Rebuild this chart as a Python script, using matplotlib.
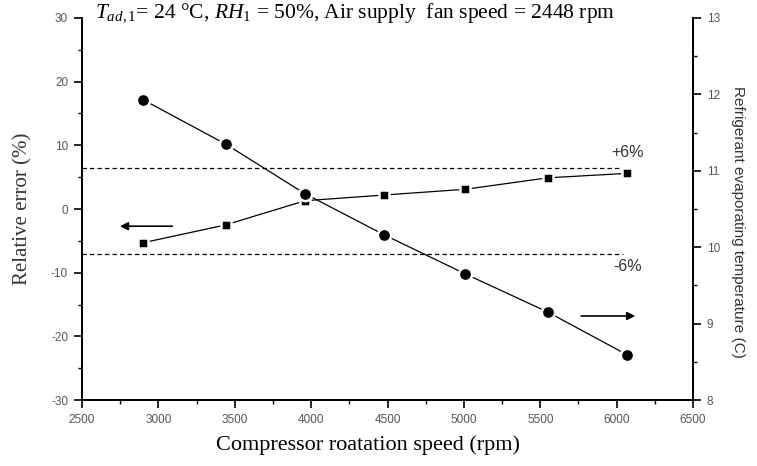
import matplotlib
matplotlib.use("Agg")
import matplotlib.pyplot as plt
from matplotlib.ticker import MultipleLocator

plt.rcParams["mathtext.fontset"] = "custom"
plt.rcParams["mathtext.rm"] = "Liberation Serif"
plt.rcParams["mathtext.it"] = "Liberation Serif:italic"
plt.rcParams["axes.unicode_minus"] = False

# compressor speeds (rpm)
speed = [2900, 3440, 3960, 4480, 5010, 5550, 6070]
# relative error of the model (%), left axis
rel_error = [-5.3, -2.5, 1.3, 2.2, 3.1, 4.9, 5.6]
# refrigerant evaporating temperature (C), right axis
evap_temp = [11.93, 11.35, 10.70, 10.16, 9.65, 9.15, 8.59]
# error band
band_upper = 6.5
band_lower = -7.0

fig = plt.figure(figsize=(7.57, 4.66), dpi=100)
ax = fig.add_axes([0.1083, 0.1416, 0.8072, 0.8198])
ax2 = ax.twinx()

tick_font = dict(family="Liberation Sans", size=8.5, color="#555555")

# left axis: relative error
ax.plot(speed, rel_error, color="black", lw=0.9, marker="s", ms=7,
        mfc="black", mec="white", mew=1.8, zorder=3)
ax.axhline(band_upper, xmin=0, xmax=(6040 - 2500) / 4000, color="black",
           lw=0.9, ls=(0, (3.5, 2.5)))
ax.axhline(band_lower, xmin=0, xmax=(6040 - 2500) / 4000, color="black",
           lw=0.9, ls=(0, (3.5, 2.5)))
ax.text(6070, band_upper + 2.3, "+6%", ha="center", va="center",
        family="Liberation Sans", fontsize=11.5, color="#333333")
ax.text(6070, band_lower - 2.0, "-6%", ha="center", va="center",
        family="Liberation Sans", fontsize=11.5, color="#333333")
ax.annotate("", xy=(2730, -2.7), xytext=(3110, -2.7),
            arrowprops=dict(arrowstyle="-|>", color="black", lw=1.2,
                            mutation_scale=12))

ax.set_xlim(2500, 6500)
ax.set_ylim(-30, 30)
ax.xaxis.set_major_locator(MultipleLocator(500))
ax.xaxis.set_minor_locator(MultipleLocator(250))
ax.yaxis.set_major_locator(MultipleLocator(10))
ax.yaxis.set_minor_locator(MultipleLocator(5))

# right axis: evaporating temperature
ax2.plot(speed, evap_temp, color="black", lw=0.9, marker="o", ms=9.5,
         mfc="black", mec="white", mew=1.8, zorder=3)
ax2.annotate("", xy=(6140, 9.1), xytext=(5750, 9.1),
             arrowprops=dict(arrowstyle="-|>", color="black", lw=1.2,
                             mutation_scale=12))
ax2.set_ylim(8, 13)
ax2.yaxis.set_major_locator(MultipleLocator(1))
ax2.yaxis.set_minor_locator(MultipleLocator(0.5))

for a in (ax, ax2):
    a.spines["top"].set_visible(False)
    for side in ("left", "right", "bottom"):
        a.spines[side].set_linewidth(1.4)
    a.tick_params(which="major", direction="out", length=6, width=1.2, pad=4)
    a.tick_params(which="minor", direction="out", length=3, width=1.0)

ax.set_xticks(ax.get_xticks(), [f"{int(v)}" for v in ax.get_xticks()], **tick_font)
ax.set_yticks(ax.get_yticks(), [f"{int(v)}" for v in ax.get_yticks()], **tick_font)
ax2.set_yticks(ax2.get_yticks(), [f"{int(v)}" for v in ax2.get_yticks()], **tick_font)
ax.set_xlim(2500, 6500)
ax.set_ylim(-30, 30)
ax2.set_ylim(8, 13)

ax.set_xlabel("Compressor roatation speed (rpm)", family="Liberation Serif",
              fontsize=16)
ax.xaxis.set_label_coords(0.468, -0.092)
ax.set_ylabel("Relative error (%)", family="Liberation Serif", fontsize=15,
              color="#333333")
ax.yaxis.set_label_coords(-0.081, 0.5)
ax2.set_ylabel("Refrigerant evaporating temperature (C)",
               family="Liberation Sans", fontsize=11, color="#333333",
               rotation=270)
ax2.yaxis.set_label_coords(1.085, 0.466)

fig.text(0.126, 0.972,
         r"$T_{ad,\mathrm{1}}$= 24 °C, $RH_{\mathrm{1}}$ = 50%, Air supply  fan speed = 2448 rpm",
         family="Liberation Serif", fontsize=15.5, va="center", ha="left")

fig.savefig("out.png", dpi=100)
